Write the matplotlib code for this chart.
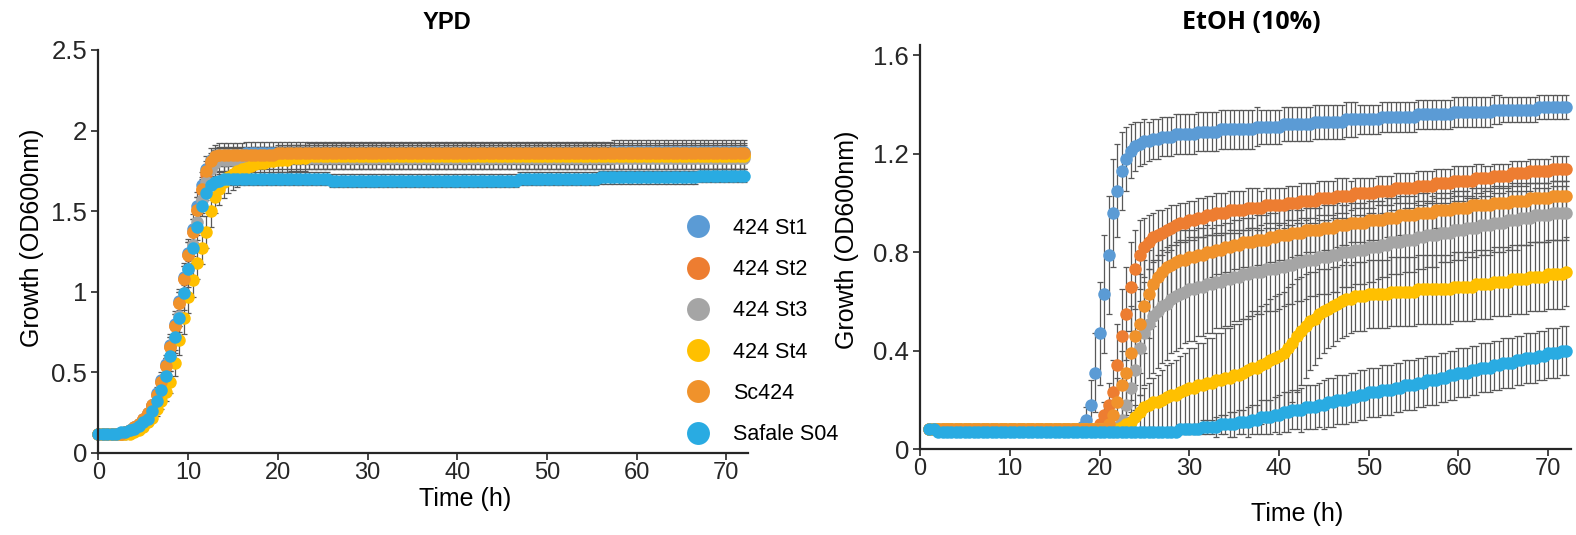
import numpy as np
import matplotlib
matplotlib.use('Agg')
import matplotlib.pyplot as plt
from matplotlib.lines import Line2D
import matplotlib.ticker as ticker

plt.rcParams['font.family'] = ['Liberation Sans', 'DejaVu Sans']

# Cepas y colores
cepas = ['424 St1', '424 St2', '424 St3', '424 St4', 'Sc424', 'Safale S04']
colores = ['#5B9BD5', '#ED7D31', '#A5A5A5', '#FFC000', '#F0922B', '#29ABE2']

# Tiempos de lectura (cada 0.5 h)
t_ypd = np.arange(0, 72.5, 0.5)
t_etoh = np.arange(1, 72.5, 0.5)

# ---------------- YPD: medias (OD600) ----------------
ypd_st1 = [
    0.12, 0.12, 0.12, 0.12, 0.12, 0.12, 0.13, 0.14, 0.16, 0.18,
    0.21, 0.25, 0.30, 0.37, 0.45, 0.55, 0.67, 0.80, 0.94, 1.09,
    1.24, 1.39, 1.53, 1.66, 1.76, 1.82, 1.84, 1.85, 1.85, 1.85,
    1.85, 1.85, 1.85, 1.86, 1.86, 1.86, 1.86, 1.86, 1.86, 1.86,
    1.86, 1.86, 1.86, 1.86, 1.86, 1.86, 1.86, 1.86, 1.86, 1.86,
    1.86, 1.86, 1.86, 1.86, 1.86, 1.86, 1.86, 1.86, 1.86, 1.86,
    1.86, 1.86, 1.86, 1.86, 1.86, 1.86, 1.86, 1.86, 1.86, 1.86,
    1.86, 1.86, 1.86, 1.86, 1.86, 1.86, 1.86, 1.86, 1.86, 1.86,
    1.86, 1.86, 1.86, 1.86, 1.86, 1.86, 1.86, 1.86, 1.86, 1.86,
    1.86, 1.86, 1.86, 1.86, 1.86, 1.86, 1.86, 1.86, 1.86, 1.86,
    1.86, 1.86, 1.86, 1.86, 1.86, 1.86, 1.86, 1.86, 1.86, 1.86,
    1.86, 1.86, 1.86, 1.86, 1.86, 1.87, 1.87, 1.87, 1.87, 1.87,
    1.87, 1.87, 1.87, 1.87, 1.87, 1.87, 1.87, 1.87, 1.87, 1.87,
    1.87, 1.87, 1.87, 1.87, 1.87, 1.87, 1.87, 1.87, 1.87, 1.87,
    1.87, 1.87, 1.87, 1.87, 1.87,
]
ypd_st2 = [
    0.12, 0.12, 0.12, 0.12, 0.12, 0.12, 0.13, 0.14, 0.16, 0.18,
    0.21, 0.25, 0.30, 0.36, 0.44, 0.54, 0.66, 0.79, 0.93, 1.08,
    1.23, 1.37, 1.51, 1.63, 1.73, 1.80, 1.83, 1.84, 1.84, 1.84,
    1.84, 1.84, 1.84, 1.84, 1.84, 1.84, 1.84, 1.84, 1.84, 1.84,
    1.85, 1.85, 1.85, 1.85, 1.85, 1.85, 1.85, 1.85, 1.85, 1.85,
    1.85, 1.85, 1.85, 1.85, 1.85, 1.85, 1.85, 1.85, 1.85, 1.85,
    1.85, 1.85, 1.85, 1.85, 1.85, 1.85, 1.85, 1.85, 1.85, 1.85,
    1.85, 1.85, 1.85, 1.85, 1.85, 1.85, 1.85, 1.85, 1.85, 1.85,
    1.85, 1.85, 1.85, 1.85, 1.85, 1.85, 1.85, 1.85, 1.85, 1.85,
    1.85, 1.85, 1.85, 1.85, 1.85, 1.85, 1.85, 1.85, 1.85, 1.85,
    1.85, 1.85, 1.85, 1.85, 1.85, 1.85, 1.85, 1.85, 1.85, 1.85,
    1.85, 1.85, 1.85, 1.85, 1.85, 1.85, 1.85, 1.85, 1.85, 1.85,
    1.85, 1.85, 1.85, 1.85, 1.85, 1.85, 1.85, 1.85, 1.85, 1.85,
    1.85, 1.85, 1.85, 1.85, 1.85, 1.85, 1.85, 1.85, 1.85, 1.85,
    1.85, 1.85, 1.85, 1.85, 1.85,
]
ypd_st3 = [
    0.12, 0.12, 0.12, 0.12, 0.12, 0.12, 0.12, 0.13, 0.14, 0.16,
    0.18, 0.22, 0.26, 0.32, 0.39, 0.48, 0.59, 0.71, 0.85, 0.99,
    1.14, 1.29, 1.43, 1.57, 1.68, 1.76, 1.80, 1.82, 1.82, 1.82,
    1.82, 1.82, 1.82, 1.82, 1.82, 1.83, 1.83, 1.83, 1.83, 1.83,
    1.83, 1.83, 1.83, 1.83, 1.83, 1.83, 1.83, 1.83, 1.83, 1.83,
    1.83, 1.83, 1.83, 1.83, 1.83, 1.83, 1.83, 1.83, 1.83, 1.83,
    1.83, 1.83, 1.83, 1.83, 1.83, 1.83, 1.83, 1.83, 1.83, 1.83,
    1.83, 1.83, 1.83, 1.83, 1.83, 1.83, 1.83, 1.83, 1.83, 1.83,
    1.83, 1.83, 1.83, 1.83, 1.83, 1.83, 1.83, 1.83, 1.83, 1.83,
    1.83, 1.83, 1.83, 1.83, 1.83, 1.83, 1.83, 1.83, 1.83, 1.83,
    1.83, 1.83, 1.83, 1.83, 1.83, 1.83, 1.83, 1.83, 1.83, 1.83,
    1.83, 1.83, 1.83, 1.83, 1.83, 1.83, 1.83, 1.83, 1.83, 1.83,
    1.83, 1.83, 1.83, 1.83, 1.83, 1.83, 1.83, 1.83, 1.83, 1.83,
    1.83, 1.83, 1.83, 1.83, 1.83, 1.83, 1.83, 1.83, 1.83, 1.83,
    1.83, 1.83, 1.83, 1.83, 1.83,
]
ypd_st4 = [
    0.12, 0.12, 0.12, 0.12, 0.12, 0.12, 0.12, 0.12, 0.13, 0.14,
    0.16, 0.19, 0.22, 0.27, 0.32, 0.38, 0.44, 0.56, 0.70, 0.84,
    0.97, 1.07, 1.18, 1.27, 1.37, 1.50, 1.59, 1.64, 1.68, 1.71,
    1.73, 1.75, 1.76, 1.77, 1.78, 1.79, 1.80, 1.80, 1.81, 1.81,
    1.82, 1.82, 1.82, 1.83, 1.83, 1.83, 1.83, 1.84, 1.84, 1.84,
    1.84, 1.84, 1.84, 1.84, 1.84, 1.84, 1.84, 1.84, 1.84, 1.84,
    1.84, 1.84, 1.84, 1.84, 1.84, 1.84, 1.84, 1.84, 1.84, 1.84,
    1.84, 1.84, 1.84, 1.84, 1.84, 1.84, 1.84, 1.84, 1.84, 1.84,
    1.84, 1.84, 1.84, 1.84, 1.84, 1.84, 1.84, 1.84, 1.84, 1.84,
    1.84, 1.84, 1.84, 1.84, 1.84, 1.84, 1.84, 1.84, 1.84, 1.84,
    1.84, 1.84, 1.84, 1.84, 1.84, 1.84, 1.84, 1.84, 1.84, 1.84,
    1.84, 1.84, 1.84, 1.84, 1.84, 1.84, 1.84, 1.84, 1.84, 1.84,
    1.84, 1.84, 1.84, 1.84, 1.84, 1.84, 1.84, 1.84, 1.84, 1.84,
    1.84, 1.84, 1.84, 1.84, 1.84, 1.84, 1.84, 1.84, 1.84, 1.84,
    1.84, 1.84, 1.84, 1.84, 1.84,
]
ypd_sc424 = [
    0.12, 0.12, 0.12, 0.12, 0.12, 0.12, 0.13, 0.14, 0.16, 0.18,
    0.21, 0.25, 0.30, 0.36, 0.44, 0.54, 0.66, 0.79, 0.93, 1.08,
    1.23, 1.37, 1.51, 1.64, 1.75, 1.81, 1.84, 1.85, 1.85, 1.85,
    1.85, 1.85, 1.85, 1.85, 1.85, 1.85, 1.85, 1.85, 1.85, 1.85,
    1.86, 1.86, 1.86, 1.86, 1.86, 1.86, 1.86, 1.86, 1.86, 1.86,
    1.86, 1.86, 1.86, 1.86, 1.86, 1.86, 1.86, 1.86, 1.86, 1.86,
    1.86, 1.86, 1.86, 1.86, 1.86, 1.86, 1.86, 1.86, 1.86, 1.86,
    1.86, 1.86, 1.86, 1.86, 1.86, 1.86, 1.86, 1.86, 1.86, 1.86,
    1.86, 1.86, 1.86, 1.86, 1.86, 1.86, 1.86, 1.86, 1.86, 1.86,
    1.86, 1.86, 1.86, 1.86, 1.86, 1.86, 1.86, 1.86, 1.86, 1.86,
    1.86, 1.86, 1.86, 1.86, 1.86, 1.86, 1.86, 1.86, 1.86, 1.86,
    1.86, 1.86, 1.86, 1.86, 1.86, 1.86, 1.86, 1.86, 1.86, 1.86,
    1.86, 1.86, 1.86, 1.86, 1.86, 1.86, 1.86, 1.86, 1.86, 1.86,
    1.86, 1.86, 1.86, 1.86, 1.86, 1.86, 1.86, 1.86, 1.86, 1.86,
    1.86, 1.86, 1.86, 1.86, 1.86,
]
ypd_s04 = [
    0.12, 0.12, 0.12, 0.12, 0.12, 0.13, 0.13, 0.14, 0.15, 0.17,
    0.19, 0.21, 0.26, 0.32, 0.39, 0.48, 0.60, 0.72, 0.84, 0.99,
    1.14, 1.27, 1.40, 1.53, 1.61, 1.66, 1.68, 1.69, 1.70, 1.70,
    1.70, 1.70, 1.70, 1.70, 1.70, 1.70, 1.70, 1.70, 1.70, 1.70,
    1.70, 1.70, 1.70, 1.70, 1.70, 1.70, 1.70, 1.70, 1.70, 1.70,
    1.70, 1.70, 1.69, 1.69, 1.69, 1.69, 1.69, 1.69, 1.69, 1.69,
    1.69, 1.69, 1.69, 1.69, 1.69, 1.69, 1.69, 1.69, 1.69, 1.69,
    1.69, 1.69, 1.69, 1.69, 1.69, 1.69, 1.69, 1.69, 1.69, 1.69,
    1.69, 1.69, 1.69, 1.69, 1.69, 1.69, 1.69, 1.69, 1.69, 1.69,
    1.69, 1.69, 1.69, 1.69, 1.70, 1.70, 1.70, 1.70, 1.70, 1.70,
    1.70, 1.70, 1.70, 1.70, 1.70, 1.70, 1.70, 1.70, 1.70, 1.70,
    1.70, 1.70, 1.71, 1.71, 1.71, 1.71, 1.71, 1.71, 1.71, 1.71,
    1.71, 1.71, 1.71, 1.71, 1.71, 1.71, 1.71, 1.71, 1.71, 1.71,
    1.71, 1.71, 1.71, 1.71, 1.72, 1.72, 1.72, 1.72, 1.72, 1.72,
    1.72, 1.72, 1.72, 1.72, 1.72,
]

# ---------------- YPD: desviaciones estándar ----------------
ypd_st1_sd = [
    0.01, 0.01, 0.01, 0.01, 0.01, 0.01, 0.01, 0.01, 0.01, 0.01,
    0.02, 0.02, 0.03, 0.04, 0.05, 0.06, 0.07, 0.08, 0.08, 0.09,
    0.09, 0.09, 0.09, 0.08, 0.08, 0.07, 0.07, 0.07, 0.07, 0.07,
    0.07, 0.07, 0.07, 0.07, 0.07, 0.07, 0.07, 0.07, 0.07, 0.07,
    0.07, 0.07, 0.07, 0.07, 0.07, 0.07, 0.07, 0.07, 0.07, 0.07,
    0.07, 0.07, 0.07, 0.07, 0.07, 0.07, 0.07, 0.07, 0.07, 0.07,
    0.07, 0.07, 0.07, 0.07, 0.07, 0.07, 0.07, 0.07, 0.07, 0.07,
    0.07, 0.07, 0.07, 0.07, 0.07, 0.07, 0.07, 0.07, 0.07, 0.07,
    0.07, 0.07, 0.07, 0.07, 0.07, 0.07, 0.07, 0.07, 0.07, 0.07,
    0.07, 0.07, 0.07, 0.07, 0.07, 0.07, 0.07, 0.07, 0.07, 0.07,
    0.07, 0.07, 0.07, 0.07, 0.07, 0.07, 0.07, 0.07, 0.07, 0.07,
    0.07, 0.07, 0.07, 0.07, 0.07, 0.07, 0.07, 0.07, 0.07, 0.07,
    0.07, 0.07, 0.07, 0.07, 0.07, 0.07, 0.07, 0.07, 0.07, 0.07,
    0.07, 0.07, 0.07, 0.07, 0.07, 0.07, 0.07, 0.07, 0.07, 0.07,
    0.07, 0.07, 0.07, 0.07, 0.07,
]
ypd_st2_sd = [
    0.01, 0.01, 0.01, 0.01, 0.01, 0.01, 0.01, 0.01, 0.01, 0.01,
    0.02, 0.02, 0.03, 0.03, 0.04, 0.05, 0.06, 0.07, 0.07, 0.08,
    0.08, 0.08, 0.08, 0.07, 0.06, 0.05, 0.05, 0.05, 0.05, 0.05,
    0.05, 0.05, 0.05, 0.05, 0.05, 0.05, 0.05, 0.05, 0.05, 0.05,
    0.05, 0.05, 0.05, 0.05, 0.05, 0.05, 0.05, 0.05, 0.05, 0.05,
    0.05, 0.05, 0.05, 0.05, 0.05, 0.05, 0.05, 0.05, 0.05, 0.05,
    0.05, 0.05, 0.05, 0.05, 0.05, 0.05, 0.05, 0.05, 0.05, 0.05,
    0.05, 0.05, 0.05, 0.05, 0.05, 0.05, 0.05, 0.05, 0.05, 0.05,
    0.05, 0.05, 0.05, 0.05, 0.05, 0.05, 0.05, 0.05, 0.05, 0.05,
    0.05, 0.05, 0.05, 0.05, 0.05, 0.05, 0.05, 0.05, 0.05, 0.05,
    0.05, 0.05, 0.05, 0.05, 0.05, 0.05, 0.05, 0.05, 0.05, 0.05,
    0.05, 0.05, 0.05, 0.05, 0.05, 0.05, 0.05, 0.05, 0.05, 0.05,
    0.05, 0.05, 0.05, 0.05, 0.05, 0.05, 0.05, 0.05, 0.05, 0.05,
    0.05, 0.05, 0.05, 0.05, 0.05, 0.05, 0.05, 0.05, 0.05, 0.05,
    0.05, 0.05, 0.05, 0.05, 0.05,
]
ypd_st3_sd = [
    0.01, 0.01, 0.01, 0.01, 0.01, 0.01, 0.01, 0.01, 0.01, 0.01,
    0.02, 0.03, 0.04, 0.05, 0.06, 0.07, 0.08, 0.09, 0.10, 0.10,
    0.11, 0.11, 0.11, 0.10, 0.09, 0.08, 0.08, 0.07, 0.07, 0.07,
    0.07, 0.07, 0.07, 0.07, 0.07, 0.07, 0.07, 0.07, 0.07, 0.07,
    0.07, 0.07, 0.07, 0.07, 0.07, 0.07, 0.07, 0.07, 0.07, 0.07,
    0.07, 0.07, 0.07, 0.07, 0.07, 0.07, 0.07, 0.07, 0.07, 0.07,
    0.07, 0.07, 0.07, 0.07, 0.07, 0.07, 0.07, 0.07, 0.07, 0.07,
    0.07, 0.07, 0.07, 0.07, 0.07, 0.07, 0.07, 0.07, 0.07, 0.07,
    0.07, 0.07, 0.07, 0.07, 0.07, 0.07, 0.07, 0.07, 0.07, 0.07,
    0.07, 0.07, 0.07, 0.07, 0.07, 0.07, 0.07, 0.07, 0.07, 0.07,
    0.07, 0.07, 0.07, 0.07, 0.07, 0.07, 0.07, 0.07, 0.07, 0.07,
    0.07, 0.07, 0.07, 0.07, 0.07, 0.07, 0.07, 0.07, 0.07, 0.07,
    0.07, 0.07, 0.07, 0.07, 0.07, 0.07, 0.07, 0.07, 0.07, 0.07,
    0.07, 0.07, 0.07, 0.07, 0.07, 0.07, 0.07, 0.07, 0.07, 0.07,
    0.07, 0.07, 0.07, 0.07, 0.07,
]
ypd_st4_sd = [
    0.01, 0.01, 0.01, 0.01, 0.01, 0.01, 0.01, 0.01, 0.01, 0.01,
    0.02, 0.02, 0.03, 0.04, 0.05, 0.06, 0.07, 0.08, 0.09, 0.10,
    0.10, 0.10, 0.10, 0.10, 0.10, 0.10, 0.10, 0.10, 0.10, 0.10,
    0.10, 0.10, 0.09, 0.09, 0.09, 0.08, 0.08, 0.08, 0.08, 0.08,
    0.08, 0.08, 0.08, 0.08, 0.08, 0.08, 0.08, 0.08, 0.08, 0.08,
    0.08, 0.08, 0.08, 0.08, 0.08, 0.08, 0.08, 0.08, 0.08, 0.08,
    0.08, 0.08, 0.08, 0.08, 0.08, 0.08, 0.08, 0.08, 0.08, 0.08,
    0.08, 0.08, 0.08, 0.08, 0.08, 0.08, 0.08, 0.08, 0.08, 0.08,
    0.08, 0.08, 0.08, 0.08, 0.08, 0.08, 0.08, 0.08, 0.08, 0.08,
    0.08, 0.08, 0.08, 0.08, 0.08, 0.08, 0.08, 0.08, 0.08, 0.08,
    0.08, 0.08, 0.08, 0.08, 0.08, 0.08, 0.08, 0.08, 0.08, 0.08,
    0.08, 0.08, 0.08, 0.08, 0.08, 0.08, 0.08, 0.08, 0.08, 0.08,
    0.08, 0.08, 0.08, 0.08, 0.08, 0.08, 0.08, 0.08, 0.08, 0.08,
    0.08, 0.08, 0.08, 0.08, 0.08, 0.08, 0.08, 0.08, 0.08, 0.08,
    0.08, 0.08, 0.08, 0.08, 0.08,
]
ypd_sc424_sd = [
    0.01, 0.01, 0.01, 0.01, 0.01, 0.01, 0.01, 0.01, 0.01, 0.01,
    0.02, 0.02, 0.03, 0.03, 0.04, 0.05, 0.06, 0.07, 0.07, 0.08,
    0.08, 0.08, 0.08, 0.07, 0.06, 0.05, 0.05, 0.05, 0.05, 0.05,
    0.05, 0.05, 0.05, 0.05, 0.05, 0.05, 0.05, 0.05, 0.05, 0.05,
    0.05, 0.05, 0.05, 0.05, 0.05, 0.05, 0.05, 0.05, 0.05, 0.05,
    0.05, 0.05, 0.05, 0.05, 0.05, 0.05, 0.05, 0.05, 0.05, 0.05,
    0.05, 0.05, 0.05, 0.05, 0.05, 0.05, 0.05, 0.05, 0.05, 0.05,
    0.05, 0.05, 0.05, 0.05, 0.05, 0.05, 0.05, 0.05, 0.05, 0.05,
    0.05, 0.05, 0.05, 0.05, 0.05, 0.05, 0.05, 0.05, 0.05, 0.05,
    0.05, 0.05, 0.05, 0.05, 0.05, 0.05, 0.05, 0.05, 0.05, 0.05,
    0.05, 0.05, 0.05, 0.05, 0.05, 0.05, 0.05, 0.05, 0.05, 0.05,
    0.05, 0.05, 0.05, 0.05, 0.05, 0.05, 0.05, 0.05, 0.05, 0.05,
    0.05, 0.05, 0.05, 0.05, 0.05, 0.05, 0.05, 0.05, 0.05, 0.05,
    0.05, 0.05, 0.05, 0.05, 0.05, 0.05, 0.05, 0.05, 0.05, 0.05,
    0.05, 0.05, 0.05, 0.05, 0.05,
]
ypd_s04_sd = [
    0.01, 0.01, 0.01, 0.01, 0.01, 0.01, 0.01, 0.01, 0.01, 0.01,
    0.01, 0.02, 0.02, 0.03, 0.03, 0.04, 0.04, 0.05, 0.05, 0.05,
    0.05, 0.05, 0.05, 0.04, 0.04, 0.04, 0.04, 0.04, 0.04, 0.04,
    0.04, 0.04, 0.04, 0.04, 0.04, 0.04, 0.04, 0.04, 0.04, 0.04,
    0.04, 0.04, 0.04, 0.04, 0.04, 0.04, 0.04, 0.04, 0.04, 0.04,
    0.04, 0.04, 0.04, 0.04, 0.04, 0.04, 0.04, 0.04, 0.04, 0.04,
    0.04, 0.04, 0.04, 0.04, 0.04, 0.04, 0.04, 0.04, 0.04, 0.04,
    0.04, 0.04, 0.04, 0.04, 0.04, 0.04, 0.04, 0.04, 0.04, 0.04,
    0.04, 0.04, 0.04, 0.04, 0.04, 0.04, 0.04, 0.04, 0.04, 0.04,
    0.04, 0.04, 0.04, 0.04, 0.04, 0.04, 0.04, 0.04, 0.04, 0.04,
    0.04, 0.04, 0.04, 0.04, 0.04, 0.04, 0.04, 0.04, 0.04, 0.04,
    0.04, 0.04, 0.04, 0.04, 0.04, 0.04, 0.04, 0.04, 0.04, 0.04,
    0.04, 0.04, 0.04, 0.04, 0.04, 0.04, 0.04, 0.04, 0.04, 0.04,
    0.04, 0.04, 0.04, 0.04, 0.04, 0.04, 0.04, 0.04, 0.04, 0.04,
    0.04, 0.04, 0.04, 0.04, 0.04,
]

# ---------------- EtOH 10%: medias (OD600) ----------------
etoh_st1 = [
    0.08, 0.08, 0.08, 0.08, 0.08, 0.08, 0.08, 0.08, 0.08, 0.08,
    0.08, 0.08, 0.08, 0.08, 0.08, 0.08, 0.08, 0.08, 0.08, 0.08,
    0.08, 0.08, 0.08, 0.08, 0.08, 0.08, 0.08, 0.08, 0.08, 0.08,
    0.08, 0.08, 0.08, 0.08, 0.09, 0.12, 0.18, 0.31, 0.47, 0.63,
    0.79, 0.96, 1.05, 1.13, 1.18, 1.21, 1.23, 1.24, 1.25, 1.25,
    1.26, 1.26, 1.27, 1.27, 1.27, 1.28, 1.28, 1.28, 1.28, 1.28,
    1.29, 1.29, 1.29, 1.29, 1.29, 1.30, 1.30, 1.30, 1.30, 1.30,
    1.30, 1.30, 1.30, 1.31, 1.31, 1.31, 1.31, 1.31, 1.31, 1.32,
    1.32, 1.32, 1.32, 1.32, 1.32, 1.32, 1.33, 1.33, 1.33, 1.33,
    1.33, 1.33, 1.33, 1.34, 1.34, 1.34, 1.34, 1.34, 1.34, 1.34,
    1.34, 1.35, 1.35, 1.35, 1.35, 1.35, 1.35, 1.35, 1.35, 1.36,
    1.36, 1.36, 1.36, 1.36, 1.36, 1.36, 1.36, 1.37, 1.37, 1.37,
    1.37, 1.37, 1.37, 1.37, 1.37, 1.37, 1.38, 1.38, 1.38, 1.38,
    1.38, 1.38, 1.38, 1.38, 1.38, 1.38, 1.39, 1.39, 1.39, 1.39,
    1.39, 1.39, 1.39,
]
etoh_st2 = [
    0.08, 0.08, 0.08, 0.08, 0.08, 0.08, 0.08, 0.08, 0.08, 0.08,
    0.08, 0.08, 0.08, 0.08, 0.08, 0.08, 0.08, 0.08, 0.08, 0.08,
    0.08, 0.08, 0.08, 0.08, 0.08, 0.08, 0.08, 0.08, 0.08, 0.08,
    0.08, 0.08, 0.08, 0.08, 0.08, 0.08, 0.08, 0.08, 0.10, 0.14,
    0.18, 0.23, 0.34, 0.46, 0.55, 0.66, 0.73, 0.79, 0.82, 0.84,
    0.86, 0.87, 0.88, 0.89, 0.90, 0.91, 0.92, 0.92, 0.93, 0.93,
    0.94, 0.94, 0.95, 0.95, 0.96, 0.96, 0.96, 0.97, 0.97, 0.97,
    0.97, 0.98, 0.98, 0.98, 0.98, 0.99, 0.99, 0.99, 0.99, 0.99,
    1.00, 1.00, 1.00, 1.01, 1.01, 1.01, 1.01, 1.02, 1.02, 1.02,
    1.02, 1.03, 1.03, 1.03, 1.03, 1.04, 1.04, 1.04, 1.04, 1.04,
    1.05, 1.05, 1.05, 1.05, 1.06, 1.06, 1.06, 1.06, 1.06, 1.07,
    1.07, 1.07, 1.07, 1.08, 1.08, 1.08, 1.08, 1.09, 1.09, 1.09,
    1.09, 1.09, 1.10, 1.10, 1.10, 1.10, 1.11, 1.11, 1.11, 1.11,
    1.12, 1.12, 1.12, 1.12, 1.13, 1.13, 1.13, 1.13, 1.13, 1.14,
    1.14, 1.14, 1.14,
]
etoh_st3 = [
    0.08, 0.08, 0.08, 0.08, 0.08, 0.08, 0.08, 0.08, 0.08, 0.08,
    0.08, 0.08, 0.08, 0.08, 0.08, 0.08, 0.08, 0.08, 0.08, 0.08,
    0.08, 0.08, 0.08, 0.08, 0.08, 0.08, 0.08, 0.08, 0.08, 0.08,
    0.08, 0.08, 0.08, 0.08, 0.08, 0.08, 0.08, 0.08, 0.08, 0.08,
    0.08, 0.08, 0.09, 0.12, 0.18, 0.25, 0.32, 0.41, 0.47, 0.51,
    0.54, 0.56, 0.58, 0.59, 0.61, 0.62, 0.63, 0.64, 0.65, 0.65,
    0.66, 0.66, 0.67, 0.67, 0.68, 0.68, 0.69, 0.69, 0.70, 0.70,
    0.71, 0.71, 0.72, 0.72, 0.72, 0.73, 0.73, 0.73, 0.74, 0.74,
    0.75, 0.75, 0.76, 0.76, 0.77, 0.77, 0.77, 0.78, 0.78, 0.78,
    0.79, 0.79, 0.80, 0.80, 0.80, 0.81, 0.81, 0.81, 0.82, 0.82,
    0.82, 0.83, 0.83, 0.84, 0.84, 0.84, 0.85, 0.85, 0.85, 0.86,
    0.86, 0.87, 0.87, 0.87, 0.88, 0.88, 0.88, 0.89, 0.89, 0.89,
    0.90, 0.90, 0.90, 0.91, 0.91, 0.91, 0.92, 0.92, 0.92, 0.93,
    0.93, 0.93, 0.94, 0.94, 0.94, 0.95, 0.95, 0.95, 0.95, 0.96,
    0.96, 0.96, 0.96,
]
etoh_st4 = [
    0.08, 0.08, 0.08, 0.08, 0.08, 0.08, 0.08, 0.08, 0.08, 0.08,
    0.08, 0.08, 0.08, 0.08, 0.08, 0.08, 0.08, 0.08, 0.08, 0.08,
    0.08, 0.08, 0.08, 0.08, 0.08, 0.08, 0.08, 0.08, 0.08, 0.08,
    0.08, 0.08, 0.08, 0.08, 0.08, 0.08, 0.08, 0.08, 0.08, 0.08,
    0.08, 0.08, 0.08, 0.09, 0.10, 0.11, 0.13, 0.15, 0.17, 0.18,
    0.19, 0.19, 0.20, 0.21, 0.22, 0.22, 0.23, 0.24, 0.25, 0.25,
    0.26, 0.26, 0.27, 0.27, 0.28, 0.28, 0.29, 0.29, 0.30, 0.30,
    0.31, 0.32, 0.33, 0.33, 0.34, 0.35, 0.36, 0.37, 0.38, 0.39,
    0.41, 0.43, 0.46, 0.48, 0.50, 0.52, 0.53, 0.55, 0.56, 0.57,
    0.58, 0.59, 0.60, 0.61, 0.61, 0.62, 0.62, 0.62, 0.63, 0.63,
    0.63, 0.63, 0.63, 0.64, 0.64, 0.64, 0.64, 0.64, 0.64, 0.65,
    0.65, 0.65, 0.65, 0.65, 0.65, 0.65, 0.65, 0.66, 0.66, 0.66,
    0.66, 0.66, 0.67, 0.67, 0.67, 0.67, 0.68, 0.68, 0.68, 0.68,
    0.69, 0.69, 0.69, 0.69, 0.70, 0.70, 0.70, 0.70, 0.71, 0.71,
    0.71, 0.71, 0.72,
]
etoh_sc424 = [
    0.08, 0.08, 0.08, 0.08, 0.08, 0.08, 0.08, 0.08, 0.08, 0.08,
    0.08, 0.08, 0.08, 0.08, 0.08, 0.08, 0.08, 0.08, 0.08, 0.08,
    0.08, 0.08, 0.08, 0.08, 0.08, 0.08, 0.08, 0.08, 0.08, 0.08,
    0.08, 0.08, 0.08, 0.08, 0.08, 0.08, 0.08, 0.08, 0.08, 0.08,
    0.10, 0.14, 0.19, 0.26, 0.31, 0.39, 0.46, 0.51, 0.58, 0.63,
    0.67, 0.70, 0.72, 0.74, 0.75, 0.76, 0.77, 0.77, 0.78, 0.78,
    0.79, 0.79, 0.80, 0.80, 0.81, 0.81, 0.82, 0.82, 0.83, 0.83,
    0.84, 0.84, 0.84, 0.85, 0.85, 0.85, 0.86, 0.86, 0.87, 0.87,
    0.87, 0.88, 0.88, 0.88, 0.89, 0.89, 0.89, 0.89, 0.90, 0.90,
    0.90, 0.91, 0.91, 0.91, 0.92, 0.92, 0.92, 0.92, 0.93, 0.93,
    0.93, 0.93, 0.94, 0.94, 0.94, 0.95, 0.95, 0.95, 0.95, 0.96,
    0.96, 0.96, 0.96, 0.97, 0.97, 0.97, 0.97, 0.98, 0.98, 0.98,
    0.98, 0.99, 0.99, 0.99, 0.99, 0.99, 1.00, 1.00, 1.00, 1.00,
    1.01, 1.01, 1.01, 1.01, 1.02, 1.02, 1.02, 1.02, 1.02, 1.03,
    1.03, 1.03, 1.03,
]
etoh_s04 = [
    0.08, 0.08, 0.07, 0.07, 0.07, 0.07, 0.07, 0.07, 0.07, 0.07,
    0.07, 0.07, 0.07, 0.07, 0.07, 0.07, 0.07, 0.07, 0.07, 0.07,
    0.07, 0.07, 0.07, 0.07, 0.07, 0.07, 0.07, 0.07, 0.07, 0.07,
    0.07, 0.07, 0.07, 0.07, 0.07, 0.07, 0.07, 0.07, 0.07, 0.07,
    0.07, 0.07, 0.07, 0.07, 0.07, 0.07, 0.07, 0.07, 0.07, 0.07,
    0.07, 0.07, 0.07, 0.07, 0.07, 0.07, 0.08, 0.08, 0.08, 0.08,
    0.08, 0.09, 0.09, 0.09, 0.09, 0.10, 0.10, 0.10, 0.10, 0.11,
    0.11, 0.11, 0.12, 0.12, 0.13, 0.13, 0.13, 0.14, 0.14, 0.15,
    0.15, 0.16, 0.16, 0.16, 0.17, 0.17, 0.17, 0.18, 0.18, 0.19,
    0.19, 0.20, 0.20, 0.20, 0.21, 0.21, 0.22, 0.22, 0.23, 0.23,
    0.23, 0.24, 0.24, 0.24, 0.25, 0.25, 0.26, 0.26, 0.26, 0.27,
    0.27, 0.28, 0.28, 0.28, 0.29, 0.29, 0.30, 0.30, 0.31, 0.31,
    0.31, 0.32, 0.32, 0.33, 0.33, 0.33, 0.34, 0.34, 0.35, 0.35,
    0.35, 0.36, 0.36, 0.37, 0.37, 0.37, 0.38, 0.38, 0.39, 0.39,
    0.39, 0.40, 0.40,
]

# ---------------- EtOH 10%: desviaciones estándar ----------------
etoh_st1_sd = [
    0.01, 0.01, 0.01, 0.01, 0.01, 0.01, 0.01, 0.01, 0.01, 0.01,
    0.01, 0.01, 0.01, 0.01, 0.01, 0.01, 0.01, 0.01, 0.01, 0.01,
    0.01, 0.01, 0.01, 0.01, 0.01, 0.01, 0.01, 0.01, 0.01, 0.01,
    0.01, 0.01, 0.01, 0.01, 0.02, 0.05, 0.10, 0.16, 0.21, 0.24,
    0.24, 0.22, 0.19, 0.16, 0.13, 0.11, 0.10, 0.09, 0.09, 0.08,
    0.08, 0.08, 0.08, 0.08, 0.08, 0.08, 0.08, 0.08, 0.08, 0.08,
    0.08, 0.08, 0.08, 0.08, 0.08, 0.08, 0.08, 0.08, 0.08, 0.08,
    0.08, 0.08, 0.08, 0.08, 0.07, 0.07, 0.07, 0.07, 0.07, 0.07,
    0.07, 0.07, 0.07, 0.07, 0.07, 0.07, 0.07, 0.07, 0.07, 0.07,
    0.07, 0.07, 0.07, 0.07, 0.07, 0.07, 0.06, 0.06, 0.06, 0.06,
    0.06, 0.06, 0.06, 0.06, 0.06, 0.06, 0.06, 0.06, 0.06, 0.06,
    0.06, 0.06, 0.06, 0.06, 0.06, 0.06, 0.06, 0.06, 0.06, 0.06,
    0.06, 0.06, 0.06, 0.06, 0.06, 0.06, 0.06, 0.06, 0.05, 0.05,
    0.05, 0.05, 0.05, 0.05, 0.05, 0.05, 0.05, 0.05, 0.05, 0.05,
    0.05, 0.05, 0.05,
]
etoh_st2_sd = [
    0.01, 0.01, 0.01, 0.01, 0.01, 0.01, 0.01, 0.01, 0.01, 0.01,
    0.01, 0.01, 0.01, 0.01, 0.01, 0.01, 0.01, 0.01, 0.01, 0.01,
    0.01, 0.01, 0.01, 0.01, 0.01, 0.01, 0.01, 0.01, 0.01, 0.01,
    0.01, 0.01, 0.01, 0.01, 0.01, 0.01, 0.01, 0.01, 0.02, 0.05,
    0.09, 0.13, 0.17, 0.19, 0.19, 0.18, 0.16, 0.14, 0.12, 0.11,
    0.10, 0.10, 0.09, 0.09, 0.09, 0.08, 0.08, 0.08, 0.08, 0.08,
    0.08, 0.08, 0.08, 0.08, 0.08, 0.08, 0.08, 0.08, 0.08, 0.08,
    0.08, 0.08, 0.08, 0.08, 0.07, 0.07, 0.07, 0.07, 0.07, 0.07,
    0.07, 0.07, 0.07, 0.07, 0.07, 0.07, 0.07, 0.07, 0.07, 0.07,
    0.07, 0.07, 0.07, 0.07, 0.06, 0.06, 0.06, 0.06, 0.06, 0.06,
    0.06, 0.06, 0.06, 0.06, 0.06, 0.06, 0.06, 0.06, 0.06, 0.06,
    0.06, 0.06, 0.06, 0.06, 0.06, 0.06, 0.06, 0.06, 0.06, 0.06,
    0.06, 0.06, 0.06, 0.06, 0.05, 0.05, 0.05, 0.05, 0.05, 0.05,
    0.05, 0.05, 0.05, 0.05, 0.05, 0.05, 0.05, 0.05, 0.05, 0.05,
    0.05, 0.05, 0.05,
]
etoh_st3_sd = [
    0.01, 0.01, 0.01, 0.01, 0.01, 0.01, 0.01, 0.01, 0.01, 0.01,
    0.01, 0.01, 0.01, 0.01, 0.01, 0.01, 0.01, 0.01, 0.01, 0.01,
    0.01, 0.01, 0.01, 0.01, 0.01, 0.01, 0.01, 0.01, 0.01, 0.01,
    0.01, 0.01, 0.01, 0.01, 0.01, 0.01, 0.01, 0.01, 0.01, 0.01,
    0.01, 0.01, 0.02, 0.05, 0.09, 0.13, 0.16, 0.19, 0.21, 0.22,
    0.23, 0.23, 0.23, 0.23, 0.22, 0.22, 0.22, 0.21, 0.21, 0.21,
    0.20, 0.20, 0.20, 0.20, 0.19, 0.19, 0.19, 0.19, 0.18, 0.18,
    0.18, 0.18, 0.18, 0.17, 0.17, 0.17, 0.17, 0.17, 0.17, 0.16,
    0.16, 0.16, 0.16, 0.16, 0.16, 0.15, 0.15, 0.15, 0.15, 0.15,
    0.15, 0.15, 0.14, 0.14, 0.14, 0.14, 0.14, 0.14, 0.14, 0.14,
    0.13, 0.13, 0.13, 0.13, 0.13, 0.13, 0.13, 0.13, 0.13, 0.13,
    0.13, 0.13, 0.13, 0.13, 0.12, 0.12, 0.12, 0.12, 0.12, 0.12,
    0.12, 0.12, 0.12, 0.12, 0.12, 0.12, 0.12, 0.12, 0.12, 0.12,
    0.12, 0.12, 0.11, 0.11, 0.11, 0.11, 0.11, 0.11, 0.11, 0.11,
    0.11, 0.11, 0.11,
]
etoh_st4_sd = [
    0.01, 0.01, 0.01, 0.01, 0.01, 0.01, 0.01, 0.01, 0.01, 0.01,
    0.01, 0.01, 0.01, 0.01, 0.01, 0.01, 0.01, 0.01, 0.01, 0.01,
    0.01, 0.01, 0.01, 0.01, 0.01, 0.01, 0.01, 0.01, 0.01, 0.01,
    0.01, 0.01, 0.01, 0.01, 0.01, 0.01, 0.01, 0.01, 0.01, 0.01,
    0.01, 0.01, 0.01, 0.02, 0.03, 0.04, 0.05, 0.07, 0.08, 0.09,
    0.10, 0.11, 0.12, 0.13, 0.13, 0.14, 0.15, 0.15, 0.16, 0.16,
    0.17, 0.17, 0.18, 0.18, 0.19, 0.19, 0.20, 0.20, 0.21, 0.21,
    0.22, 0.22, 0.23, 0.23, 0.24, 0.24, 0.25, 0.25, 0.25, 0.25,
    0.25, 0.24, 0.23, 0.22, 0.21, 0.20, 0.19, 0.18, 0.17, 0.16,
    0.16, 0.15, 0.15, 0.15, 0.14, 0.14, 0.14, 0.14, 0.14, 0.14,
    0.14, 0.14, 0.14, 0.14, 0.14, 0.14, 0.14, 0.14, 0.14, 0.14,
    0.14, 0.14, 0.14, 0.14, 0.14, 0.14, 0.14, 0.14, 0.14, 0.14,
    0.14, 0.14, 0.14, 0.14, 0.14, 0.14, 0.14, 0.14, 0.14, 0.14,
    0.14, 0.14, 0.14, 0.14, 0.14, 0.14, 0.14, 0.14, 0.14, 0.14,
    0.14, 0.14, 0.14,
]
etoh_sc424_sd = [
    0.01, 0.01, 0.01, 0.01, 0.01, 0.01, 0.01, 0.01, 0.01, 0.01,
    0.01, 0.01, 0.01, 0.01, 0.01, 0.01, 0.01, 0.01, 0.01, 0.01,
    0.01, 0.01, 0.01, 0.01, 0.01, 0.01, 0.01, 0.01, 0.01, 0.01,
    0.01, 0.01, 0.01, 0.01, 0.01, 0.01, 0.01, 0.01, 0.01, 0.01,
    0.03, 0.06, 0.10, 0.14, 0.17, 0.19, 0.20, 0.20, 0.19, 0.18,
    0.17, 0.16, 0.15, 0.14, 0.13, 0.13, 0.12, 0.12, 0.11, 0.11,
    0.11, 0.11, 0.11, 0.10, 0.10, 0.10, 0.10, 0.10, 0.10, 0.10,
    0.10, 0.10, 0.10, 0.10, 0.10, 0.10, 0.10, 0.10, 0.10, 0.10,
    0.10, 0.10, 0.09, 0.09, 0.09, 0.09, 0.09, 0.09, 0.09, 0.09,
    0.09, 0.09, 0.08, 0.08, 0.08, 0.08, 0.08, 0.08, 0.08, 0.08,
    0.08, 0.08, 0.08, 0.08, 0.08, 0.08, 0.08, 0.08, 0.08, 0.08,
    0.08, 0.08, 0.07, 0.07, 0.07, 0.07, 0.07, 0.07, 0.07, 0.07,
    0.07, 0.07, 0.07, 0.07, 0.07, 0.07, 0.07, 0.07, 0.07, 0.07,
    0.07, 0.07, 0.07, 0.07, 0.06, 0.06, 0.06, 0.06, 0.06, 0.06,
    0.06, 0.06, 0.06,
]
etoh_s04_sd = [
    0.01, 0.01, 0.01, 0.01, 0.01, 0.01, 0.01, 0.01, 0.01, 0.01,
    0.01, 0.01, 0.01, 0.01, 0.01, 0.01, 0.01, 0.01, 0.01, 0.01,
    0.01, 0.01, 0.01, 0.01, 0.01, 0.01, 0.01, 0.01, 0.01, 0.01,
    0.01, 0.01, 0.01, 0.01, 0.01, 0.01, 0.01, 0.01, 0.01, 0.01,
    0.01, 0.01, 0.01, 0.01, 0.01, 0.01, 0.01, 0.01, 0.01, 0.01,
    0.01, 0.01, 0.01, 0.01, 0.01, 0.01, 0.02, 0.02, 0.02, 0.02,
    0.02, 0.03, 0.03, 0.03, 0.04, 0.04, 0.04, 0.05, 0.05, 0.05,
    0.05, 0.06, 0.06, 0.06, 0.07, 0.07, 0.07, 0.07, 0.08, 0.08,
    0.08, 0.08, 0.08, 0.09, 0.09, 0.09, 0.09, 0.09, 0.10, 0.10,
    0.10, 0.10, 0.10, 0.10, 0.10, 0.10, 0.10, 0.10, 0.10, 0.10,
    0.10, 0.10, 0.10, 0.10, 0.10, 0.10, 0.10, 0.10, 0.10, 0.10,
    0.10, 0.10, 0.10, 0.10, 0.10, 0.10, 0.10, 0.10, 0.10, 0.10,
    0.10, 0.10, 0.10, 0.10, 0.10, 0.10, 0.10, 0.10, 0.10, 0.10,
    0.10, 0.10, 0.10, 0.10, 0.10, 0.10, 0.10, 0.10, 0.10, 0.10,
    0.10, 0.10, 0.10,
]

medias_ypd = [ypd_st1, ypd_st2, ypd_st3, ypd_st4, ypd_sc424, ypd_s04]
sd_ypd = [ypd_st1_sd, ypd_st2_sd, ypd_st3_sd, ypd_st4_sd, ypd_sc424_sd, ypd_s04_sd]
medias_etoh = [etoh_st1, etoh_st2, etoh_st3, etoh_st4, etoh_sc424, etoh_s04]
sd_etoh = [etoh_st1_sd, etoh_st2_sd, etoh_st3_sd, etoh_st4_sd, etoh_sc424_sd, etoh_s04_sd]

COLOR_EJE = '#262626'
COLOR_BARRA = '#595959'


def dibujar_panel(ax, t, medias, sds):
    # primero las barras de error, luego los puntos encima
    for m, s in zip(medias, sds):
        ax.errorbar(t, m, yerr=s, fmt='none', ecolor=COLOR_BARRA,
                    elinewidth=0.9, capsize=2.5, capthick=0.9, zorder=1)
    for m, c in zip(medias, colores):
        ax.plot(t, m, 'o', color=c, ms=9, mew=0, zorder=2, clip_on=False)

    for lado in ['top', 'right']:
        ax.spines[lado].set_visible(False)
    for lado in ['left', 'bottom']:
        ax.spines[lado].set_linewidth(1.6)
        ax.spines[lado].set_color(COLOR_EJE)
    ax.tick_params(direction='out', length=5, width=1.2, colors=COLOR_EJE, pad=3)
    ax.tick_params(axis='y', labelsize=18.5)
    ax.tick_params(axis='x', labelsize=17, pad=1.5)
    ax.yaxis.set_major_formatter(ticker.FuncFormatter(lambda v, p: f'{v:g}'))
    ax.set_xticks(range(0, 71, 10))
    ax.set_xlabel('Time (h)', fontsize=18)
    ax.set_ylabel('Growth (OD600nm)', fontsize=18)
    ax.xaxis.label.set_va('center')
    ax.yaxis.label.set_va('center')


fig = plt.figure(figsize=(15.76, 5.35), dpi=100)

# Panel YPD
ax1 = fig.add_axes([0.0624, 0.1533, 0.4122, 0.7533])
dibujar_panel(ax1, t_ypd, medias_ypd, sd_ypd)
ax1.set_xlim(0, 72.4)
ax1.set_ylim(0, 2.5)
ax1.set_yticks([0, 0.5, 1, 1.5, 2, 2.5])
ax1.xaxis.set_label_coords(0.565, -0.113)
ax1.yaxis.set_label_coords(-0.102, 0.533)

# Panel EtOH
ax2 = fig.add_axes([0.5838, 0.1607, 0.4131, 0.7551])
dibujar_panel(ax2, t_etoh, medias_etoh, sd_etoh)
ax2.set_xlim(0, 72.55)
ax2.set_ylim(0, 1.642)
ax2.set_yticks([0, 0.4, 0.8, 1.2, 1.6])
ax2.xaxis.set_label_coords(0.579, -0.161)
ax2.yaxis.set_label_coords(-0.112, 0.518)

# Titulos
fig.text(0.2836, 0.958, 'YPD', ha='center', va='center', fontsize=17,
         fontweight='bold')
fig.text(0.794, 0.958, 'EtOH (10%)', ha='center', va='center', fontsize=18,
         fontweight='bold', family=['Open Sans', 'DejaVu Sans'])

# Leyenda (solo en el panel YPD)
manijas = [Line2D([], [], ls='none', marker='o', ms=16.5, mew=0, color=c)
           for c in colores]
ax1.legend(manijas, cepas, loc='upper left', bbox_to_anchor=(0.4363, 0.5926),
           bbox_transform=fig.transFigure, frameon=False, fontsize=15.5,
           borderpad=0, borderaxespad=0, handlelength=1.0, handletextpad=1.1,
           labelspacing=0.94)

fig.savefig('out.png', dpi=100)
